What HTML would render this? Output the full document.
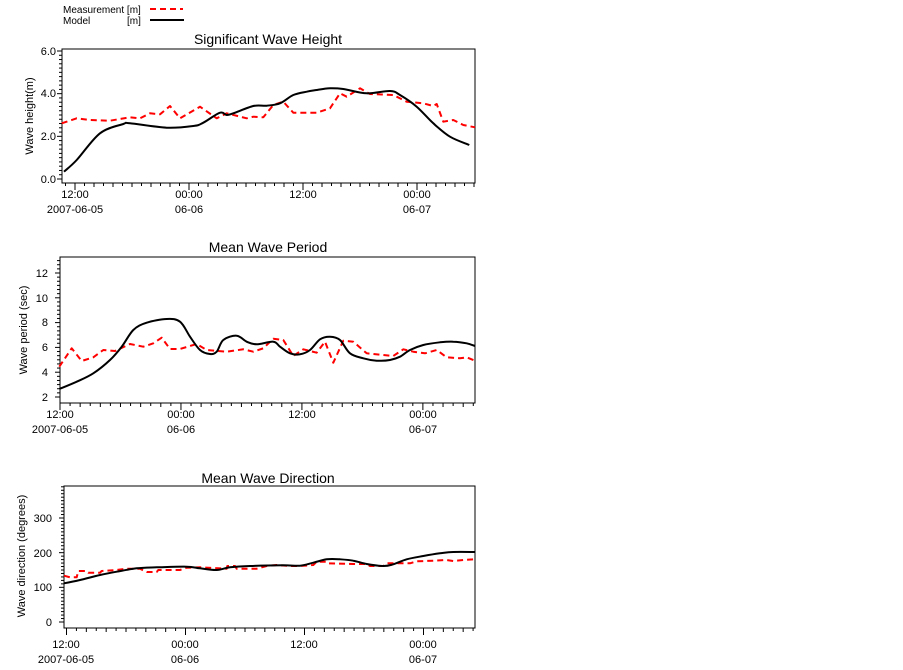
<!DOCTYPE html>
<html><head><meta charset="utf-8"><style>
html,body{margin:0;padding:0;background:#fff;width:903px;height:670px;overflow:hidden}
svg{display:block}
text{font-family:"Liberation Sans",Arial,sans-serif;fill:#000}
</style></head><body>
<svg id="s" width="903" height="670" viewBox="0 0 903 670" xmlns="http://www.w3.org/2000/svg">
<text x="63" y="13" font-size="10">Measurement [m]</text>
<text x="63" y="24" font-size="10">Model</text>
<text x="127" y="24" font-size="10">[m]</text>
<line x1="150" y1="9" x2="183" y2="9" stroke="#f00" stroke-width="2" stroke-dasharray="6,4"/>
<line x1="150" y1="20" x2="184" y2="20" stroke="#000" stroke-width="2"/>

<text x="268" y="44" font-size="14" text-anchor="middle">Significant Wave Height</text>
<text x="268" y="252" font-size="14" text-anchor="middle">Mean Wave Period</text>
<text x="268" y="483" font-size="14" text-anchor="middle">Mean Wave Direction</text>

<text transform="translate(33,116) rotate(-90)" font-size="11" text-anchor="middle">Wave height(m)</text>
<text transform="translate(27,330) rotate(-90)" font-size="11" text-anchor="middle">Wave period (sec)</text>
<text transform="translate(25,556) rotate(-90)" font-size="11" text-anchor="middle">Wave direction (degrees)</text>

<g font-size="11" text-anchor="end">
<text x="56" y="55">6.0</text><text x="56" y="97">4.0</text><text x="56" y="140">2.0</text><text x="56" y="183">0.0</text>
<text x="48" y="277">12</text><text x="48" y="302">10</text><text x="48" y="326">8</text><text x="48" y="351">6</text><text x="48" y="376">4</text><text x="48" y="401">2</text>
<text x="52" y="522">300</text><text x="52" y="557">200</text><text x="52" y="591">100</text><text x="52" y="626">0</text>
</g>
<g font-size="11" text-anchor="middle">
<text x="75" y="198">12:00</text><text x="75" y="213">2007-06-05</text>
<text x="189" y="198">00:00</text><text x="189" y="213">06-06</text>
<text x="303" y="198">12:00</text>
<text x="417" y="198">00:00</text><text x="417" y="213">06-07</text>
<text x="60" y="418">12:00</text><text x="60" y="433">2007-06-05</text>
<text x="181" y="418">00:00</text><text x="181" y="433">06-06</text>
<text x="302" y="418">12:00</text>
<text x="423" y="418">00:00</text><text x="423" y="433">06-07</text>
<text x="66" y="648">12:00</text><text x="66" y="663">2007-06-05</text>
<text x="185" y="648">00:00</text><text x="185" y="663">06-06</text>
<text x="304" y="648">12:00</text>
<text x="423" y="648">00:00</text><text x="423" y="663">06-07</text>
</g>
<g id="g"></g>
</svg>
<script>
var g=document.getElementById('g'),out='';
function L(x1,y1,x2,y2){out+='<line x1="'+x1+'" y1="'+y1+'" x2="'+x2+'" y2="'+y2+'" stroke="#000" stroke-width="1"/>';}
function panel(l,t,r,b,x12,pxh,yStep,majEvery,yb){
 out+='<rect x="'+l+'" y="'+t+'" width="'+(r-l)+'" height="'+(b-t)+'" fill="none" stroke="#000" stroke-width="1"/>';
 for(var h=-3;h<50;h++){var x=x12+h*pxh;if(x<l-0.5||x>r+0.5)continue;var len=(h%12==0)?7:(h%2==0?4:3);L(x,b,x,b+len);}
 var i=0;for(var y=yb;y>=t;y-=yStep,i++){L(l-(i%majEvery==0?5:3),y,l,y);}
}
panel(62,49,475,183,75,9.5,128/30,10,179);
panel(60,257,475,403,60,10.08,124/30,6,397);
panel(64,486,475,628,66.5,9.9167,104/30,10,622);
function path(pts,oy,dash,color,smooth){
 var P=[];for(var i=0;i<pts.length;i+=2)P.push([pts[i]/3,oy+pts[i+1]/3]);
 var d='M'+P[0][0].toFixed(1)+','+P[0][1].toFixed(1);
 for(var i=1;i<P.length;i++){
  if(!smooth){d+='L'+P[i][0].toFixed(1)+','+P[i][1].toFixed(1);continue;}
  var p0=P[i-2]||P[i-1],p1=P[i-1],p2=P[i],p3=P[i+1]||P[i];
  var c1=[p1[0]+(p2[0]-p0[0])/6,p1[1]+(p2[1]-p0[1])/6],c2=[p2[0]-(p3[0]-p1[0])/6,p2[1]-(p3[1]-p1[1])/6];
  d+='C'+c1[0].toFixed(1)+','+c1[1].toFixed(1)+' '+c2[0].toFixed(1)+','+c2[1].toFixed(1)+' '+p2[0].toFixed(1)+','+p2[1].toFixed(1);
 }
 out+='<path d="'+d+'" fill="none" stroke="'+color+'" stroke-width="2" stroke-linejoin="round"'+(dash?' stroke-dasharray="6,4"':'')+'/>';
}
path([185,370,230,355,270,360,330,362,390,352,420,355,450,340,480,343,510,318,540,355,600,320,650,355,680,340,740,355,760,350,790,352,820,315,850,305,880,338,950,338,990,325,1020,280,1040,290,1080,265,1110,282,1180,285,1220,305,1270,310,1300,318,1310,312,1330,365,1360,360,1390,375,1425,382],0,1,'#f00',0);
path([192,515,230,480,300,400,370,372,390,370,500,383,580,378,610,368,660,338,680,345,700,340,760,318,800,317,840,310,880,285,920,275,950,270,990,265,1030,267,1100,280,1170,273,1200,285,1250,320,1300,370,1350,410,1408,435],0,0,'#000',1);
path([178,380,215,325,245,363,280,352,310,330,345,333,390,312,430,320,460,310,485,293,510,327,540,327,590,312,620,330,680,335,730,328,760,335,790,325,820,296,850,300,880,348,910,328,950,338,975,305,1000,368,1030,302,1060,305,1100,340,1150,345,1180,348,1210,328,1240,335,1275,340,1310,330,1340,352,1380,355,1400,352,1425,362],240,1,'#f00',0);
path([178,447,230,425,280,400,330,360,365,320,400,270,440,248,500,237,540,245,570,290,600,330,630,342,650,335,670,300,710,287,740,305,770,313,820,305,840,320,870,340,900,343,930,330,960,298,990,290,1020,300,1050,340,1090,355,1130,362,1170,360,1200,350,1230,330,1270,315,1320,307,1360,305,1400,310,1425,318],240,0,'#000',1);
path([192,347,210,352,230,352,235,333,260,333,265,338,300,338,305,333,350,330,380,326,420,326,440,336,470,336,475,330,540,330,560,323,600,322,680,326,682,318,705,318,710,326,770,326,800,318,830,315,870,318,900,318,940,315,950,305,980,305,985,310,1060,312,1100,312,1110,318,1150,318,1160,310,1230,310,1250,304,1300,302,1340,300,1360,303,1390,300,1425,298],460,1,'#f00',0);
path([192,370,240,360,300,345,350,335,410,325,470,322,560,320,600,325,650,330,690,322,750,318,850,316,900,317,940,308,980,298,1020,298,1060,302,1100,312,1150,318,1180,313,1220,298,1270,288,1320,280,1360,276,1425,276],460,0,'#000',1);
g.innerHTML=out;
</script>
</body></html>
